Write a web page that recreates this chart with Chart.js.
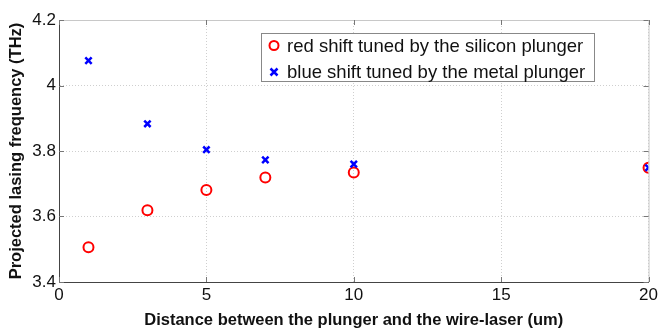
<!DOCTYPE html>
<html>
<head>
<meta charset="utf-8">
<script src="https://cdn.jsdelivr.net/npm/chart.js@4"></script>
<style>
	html, body { margin: 0; padding: 0; background: #fff; }
	#wrap { width: 661px; height: 333px; }
</style>
</head>
<body>
<div id="wrap"><canvas id="freq-chart" width="661" height="333"></canvas></div>
<script>
const distances = [1, 3, 5, 7, 10, 20];
const redShift = [3.506, 3.619, 3.681, 3.719, 3.734, 3.749];
const blueShift = [4.076, 3.883, 3.804, 3.773, 3.760, 3.749];
const seriesLabels = ['red shift tuned by the silicon plunger', 'blue shift tuned by the metal plunger'];
const xTicks = [0, 5, 10, 15, 20];
const yTicks = [3.4, 3.6, 3.8, 4, 4.2];

const fontFamily = '"Liberation Sans", Arial, Helvetica, sans-serif';

function toPoints(xs, ys) {
	return xs.map((x, i) => ({ x: x, y: ys[i] }));
}

// box, inner tick marks and the legend, drawn like the matlab figure
const matlabAxesPlugin = {
	id: 'matlabAxes',
	afterDraw: (chart) => {
		const { ctx, chartArea: { top, bottom, left, right }, scales: { x, y } } = chart;
		ctx.save();
		ctx.strokeStyle = '#c8c8c8';
		ctx.lineWidth = 1;
		ctx.beginPath();
		ctx.moveTo(left, top + 0.5);
		ctx.lineTo(right + 0.5, top + 0.5);
		ctx.lineTo(right + 0.5, bottom);
		ctx.stroke();

		ctx.strokeStyle = '#777';
		ctx.beginPath();
		xTicks.forEach(v => {
			const px = Math.round(x.getPixelForValue(v)) + 0.5;
			ctx.moveTo(px, bottom);
			ctx.lineTo(px, bottom - 5);
			ctx.moveTo(px, top);
			ctx.lineTo(px, top + 5);
		});
		yTicks.forEach(v => {
			const py = Math.round(y.getPixelForValue(v)) + 0.5;
			ctx.moveTo(left, py);
			ctx.lineTo(left + 5, py);
			ctx.moveTo(right, py);
			ctx.lineTo(right - 5, py);
		});
		ctx.stroke();

		// legend box
		const bx = 261, by = 33.5, bw = 333, bh = 48;
		ctx.fillStyle = '#fff';
		ctx.fillRect(bx, by, bw, bh);
		ctx.strokeStyle = '#888';
		ctx.lineWidth = 1;
		ctx.strokeRect(bx + 0.5, by, bw, bh);
		ctx.font = '18.5px ' + fontFamily;
		ctx.textBaseline = 'middle';
		chart.data.datasets.forEach((ds, i) => {
			const cy = by + 12 + i * 26.5;
			const cx = bx + 13;
			ctx.strokeStyle = ds.borderColor;
			ctx.lineWidth = ds.borderWidth;
			ctx.beginPath();
			if (ds.pointStyle === 'circle') {
				ctx.arc(cx, cy, 4.5, 0, Math.PI * 2);
			} else {
				ctx.moveTo(cx - 3.5, cy - 3.5);
				ctx.lineTo(cx + 3.5, cy + 3.5);
				ctx.moveTo(cx + 3.5, cy - 3.5);
				ctx.lineTo(cx - 3.5, cy + 3.5);
			}
			ctx.stroke();
			ctx.fillStyle = '#111';
			ctx.fillText(seriesLabels[i], bx + 26, cy + 1);
		});
		ctx.restore();
	}
};

const ctx = document.getElementById('freq-chart');
new Chart(ctx, {
	type: 'scatter',
	data: {
		datasets: [{
			label: seriesLabels[0],
			data: toPoints(distances, redShift),
			pointStyle: 'circle',
			pointRadius: 5,
			borderWidth: 2,
			borderColor: '#ff0000',
			backgroundColor: 'rgba(0,0,0,0)',
			order: 1
		}, {
			label: seriesLabels[1],
			data: toPoints(distances, blueShift),
			pointStyle: 'crossRot',
			pointRadius: 4.5,
			borderWidth: 2.5,
			borderColor: '#0000ff',
			backgroundColor: '#0000ff',
			order: 0
		}]
	},
	options: {
		responsive: false,
		animation: false,
		layout: {
			padding: { top: 20, right: 10, left: 0, bottom: 0 }
		},
		plugins: {
			legend: { display: false },
			tooltip: { enabled: false }
		},
		scales: {
			x: {
				type: 'linear',
				min: 0,
				max: 20,
				afterBuildTicks: (axis) => { axis.ticks = xTicks.map(v => ({ value: v })); },
				afterFit: (axis) => { axis.height = 51; },
				ticks: {
					color: '#111',
					font: { family: fontFamily, size: 17 },
					padding: 3,
					maxRotation: 0
				},
				grid: {
					color: '#cfcfcf',
					tickLength: 0,
					lineWidth: 1
				},
				border: { color: '#444', width: 1, dash: [1, 2] },
				title: {
					display: true,
					text: 'Distance between the plunger and the wire-laser (um)',
					color: '#111',
					font: { family: fontFamily, size: 16.5, weight: 'bold' },
					padding: { top: 0, bottom: 3 }
				}
			},
			y: {
				type: 'linear',
				min: 3.4,
				max: 4.2,
				afterBuildTicks: (axis) => { axis.ticks = yTicks.map(v => ({ value: v })); },
				afterFit: (axis) => { axis.width = 59; },
				ticks: {
					color: '#111',
					font: { family: fontFamily, size: 17 },
					padding: 3,
					callback: (v) => String(+v.toFixed(1))
				},
				grid: {
					color: '#cfcfcf',
					tickLength: 0,
					lineWidth: 1
				},
				border: { color: '#444', width: 1, dash: [1, 2] },
				title: {
					display: true,
					text: 'Projected lasing frequency (THz)',
					color: '#111',
					font: { family: fontFamily, size: 16.5, weight: 'bold' },
					padding: { top: 7, bottom: 0 }
				}
			}
		}
	},
	plugins: [matlabAxesPlugin]
});
</script>
</body>
</html>
